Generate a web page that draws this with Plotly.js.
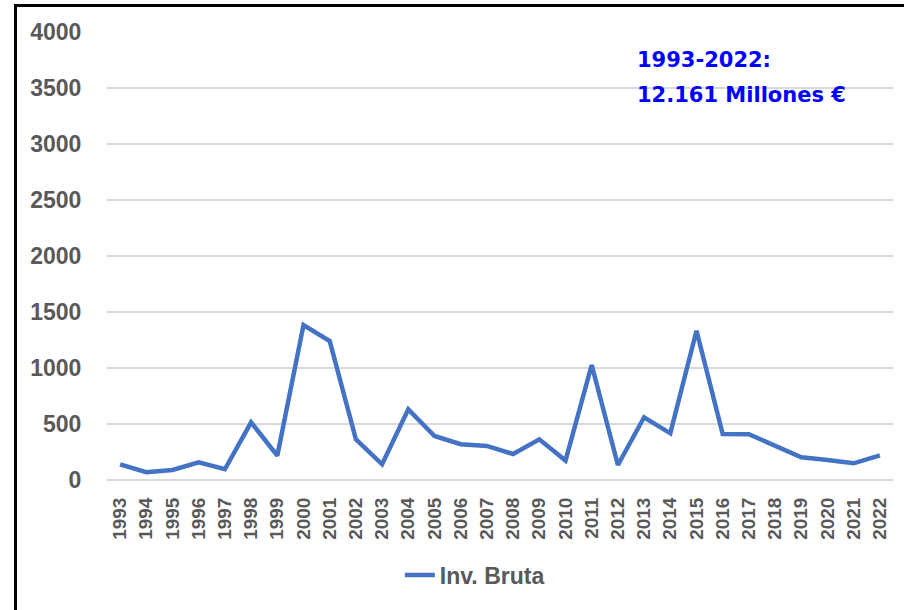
<!DOCTYPE html>
<html>
<head>
<meta charset="utf-8">
<script src="https://cdn.plot.ly/plotly-3.0.1.min.js"></script>
<style>
  html, body { margin: 0; padding: 0; background: #fff; }
  #wrap { position: relative; width: 904px; height: 610px; overflow: hidden; }
  #chart { width: 904px; height: 610px; }
  #frame { position: absolute; left: 14px; top: 4px; width: 1000px; height: 700px;
           border-left: 3px solid #000; border-top: 3px solid #000; pointer-events: none; }
</style>
</head>
<body>
<div id="wrap">
  <div id="chart"></div>
  <div id="frame"></div>
</div>
<script>
const years = ["1993","1994","1995","1996","1997","1998","1999","2000","2001","2002",
               "2003","2004","2005","2006","2007","2008","2009","2010","2011","2012",
               "2013","2014","2015","2016","2017","2018","2019","2020","2021","2022"];
const invBruta = [140, 69, 89, 158, 96, 515, 217, 1384, 1241, 363,
                  140, 631, 393, 319, 304, 232, 363, 173, 1027, 134,
                  560, 417, 1333, 411, 408, 307, 203, 179, 149, 220];
const yTicks = [0, 500, 1000, 1500, 2000, 2500, 3000, 3500, 4000];
const seriesName = "Inv. Bruta";
const noteLine1 = "1993-2022:";
const noteLine2 = "12.161 Millones €";

const tickFont = {family: "Liberation Sans, Arial, sans-serif", size: 23, color: "#595959", weight: "bold"};

const trace = {
  type: "scatter",
  mode: "lines",
  x: years,
  y: invBruta,
  name: seriesName,
  line: {color: "#4472C4", width: 4.5, shape: "linear"},
  showlegend: true
};

const layout = {
  width: 904,
  height: 610,
  margin: {l: 107, r: 11, t: 32, b: 130},
  paper_bgcolor: "#ffffff",
  plot_bgcolor: "#ffffff",
  showlegend: true,
  xaxis: {
    type: "category",
    range: [-0.5, 29.5],
    showgrid: false,
    zeroline: false,
    showline: false,
    tickangle: -90,
    ticks: "outside",
    ticklen: 9,
    tickcolor: "rgba(0,0,0,0)",
    tickfont: {family: "Liberation Sans, Arial, sans-serif", size: 19, color: "#595959", weight: "bold"},
    fixedrange: true
  },
  yaxis: {
    range: [0, 4000],
    tickvals: yTicks,
    ticktext: yTicks.map(String),
    showgrid: true,
    gridcolor: "#D9D9D9",
    gridwidth: 1.5,
    zeroline: true,
    zerolinecolor: "#D9D9D9",
    zerolinewidth: 1.5,
    showline: false,
    ticks: "outside",
    ticklen: 20,
    tickcolor: "rgba(0,0,0,0)",
    tickfont: tickFont,
    fixedrange: true
  },
  legend: {
    orientation: "h",
    x: 0.468,
    xanchor: "center",
    y: -0.212,
    yanchor: "middle",
    font: {family: "Liberation Sans, Arial, sans-serif", size: 23, color: "#595959", weight: "bold"},
    bgcolor: "rgba(0,0,0,0)"
  },
  annotations: [
    {
      xref: "paper", yref: "paper",
      x: 0.672, y: 0.937,
      xanchor: "left", yanchor: "middle",
      text: noteLine1,
      showarrow: false,
      font: {family: "DejaVu Sans, sans-serif", size: 21, color: "#0000FF", weight: "bold"}
    },
    {
      xref: "paper", yref: "paper",
      x: 0.672, y: 0.859,
      xanchor: "left", yanchor: "middle",
      text: noteLine2,
      showarrow: false,
      font: {family: "DejaVu Sans, sans-serif", size: 21, color: "#0000FF", weight: "bold"}
    }
  ]
};

Plotly.newPlot("chart", [trace], layout, {staticPlot: true, displayModeBar: false});
</script>
</body>
</html>
